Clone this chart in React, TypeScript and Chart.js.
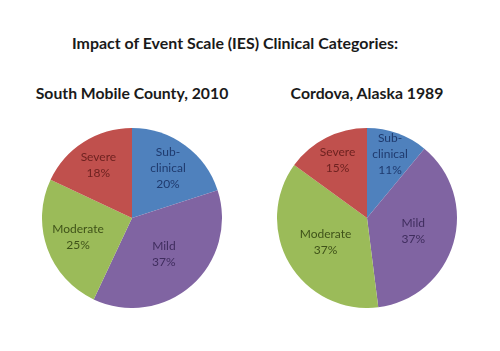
import React, { useEffect, useLayoutEffect, useRef } from "react";
import { Chart, registerables } from "chart.js";

Chart.register(...registerables);

// ---- data ----
const categories = ["Sub-clinical", "Mild", "Moderate", "Severe"];
const labelLines = [["Sub-", "clinical"], ["Mild"], ["Moderate"], ["Severe"]];
const southMobile2010 = [20, 37, 25, 18];
const cordova1989 = [11, 37, 37, 15];
const mainTitle = "Impact of Event Scale (IES) Clinical Categories:";
const southTitle = "South Mobile County, 2010";
const cordovaTitle = "Cordova, Alaska 1989";

// ---- styles ----
const sliceColors = ["#4F81BD", "#8064A2", "#9BBB59", "#C0504D"];
const textColors = ["#1F3A6E", "#3F2D5E", "#3F5219", "#6E2220"];

const labelPlugin = {
  id: "sliceLabels",
  afterDatasetsDraw(chart: any) {
    const ctx = chart.ctx;
    const meta = chart.getDatasetMeta(0);
    const data = chart.data.datasets[0].data as number[];
    const total = data.reduce((a, b) => a + b, 0);
    meta.data.forEach((arc: any, i: number) => {
      const p = arc.getProps(["x", "y", "startAngle", "endAngle", "outerRadius"], true);
      const mid = (p.startAngle + p.endAngle) / 2;
      const f = data[i] / total;
      const r = p.outerRadius * 0.85 * (1 - f);
      const cx = p.x + Math.cos(mid) * r;
      const cy = p.y + Math.sin(mid) * r;
      const lines = [...labelLines[i], data[i] + "%"];
      ctx.save();
      ctx.font = "12px Lato, 'Open Sans', sans-serif";
      ctx.fillStyle = textColors[i];
      ctx.textAlign = "center";
      ctx.textBaseline = "middle";
      const lh = 16;
      lines.forEach((l, k) => {
        ctx.fillText(l, cx, cy + (k - (lines.length - 1) / 2) * lh);
      });
      ctx.restore();
    });
  },
};

function Pie({ values, left, top, size }: { values: number[]; left: number; top: number; size: number }) {
  const ref = useRef<HTMLCanvasElement>(null);
  useEffect(() => {
    if (!ref.current) return;
    const chart = new Chart(ref.current, {
      type: "pie",
      data: {
        labels: categories,
        datasets: [
          {
            data: values,
            backgroundColor: sliceColors,
            borderWidth: 0,
          },
        ],
      },
      options: {
        responsive: false,
        animation: false,
        layout: { padding: 0 },
        plugins: {
          legend: { display: false },
          tooltip: { enabled: false },
          title: { display: false },
        },
      },
      plugins: [labelPlugin],
    });
    return () => chart.destroy();
  }, [values]);
  return (
    <div style={{ position: "absolute", left, top, width: size, height: size }}>
      <canvas ref={ref} width={size} height={size} style={{ width: size, height: size }} />
    </div>
  );
}

function FitText({ text, cx, cy, width, size }: { text: string; cx: number; cy: number; width: number; size: number }) {
  const ref = useRef<HTMLSpanElement>(null);
  useLayoutEffect(() => {
    const el = ref.current;
    if (!el) return;
    const w = el.offsetWidth;
    const s = w > 0 ? width / w : 1;
    el.style.transform = `translate(-50%, -50%) scaleX(${s})`;
  }, [text, width]);
  return (
    <span
      ref={ref}
      style={{
        position: "absolute",
        left: cx,
        top: cy,
        whiteSpace: "nowrap",
        display: "inline-block",
        fontFamily: "Lato, 'Open Sans', sans-serif",
        fontWeight: 700,
        fontSize: size,
        lineHeight: 1,
        color: "#1a1a1a",
        transform: "translate(-50%, -50%)",
        transformOrigin: "50% 50%",
      }}
    >
      {text}
    </span>
  );
}

export default function App() {
  useEffect(() => {
    document.body.style.margin = "0";
    document.body.style.background = "#ffffff";
  }, []);
  return (
    <div style={{ position: "relative", width: 500, height: 351, background: "#ffffff", overflow: "hidden" }}>
      <FitText text={mainTitle} cx={235} cy={43} width={326} size={15} />
      <FitText text={southTitle} cx={131.5} cy={93} width={193} size={16} />
      <FitText text={cordovaTitle} cx={366.5} cy={93} width={153} size={16} />
      <Pie values={southMobile2010} left={42} top={128} size={180} />
      <Pie values={cordova1989} left={277} top={128} size={180} />
    </div>
  );
}
